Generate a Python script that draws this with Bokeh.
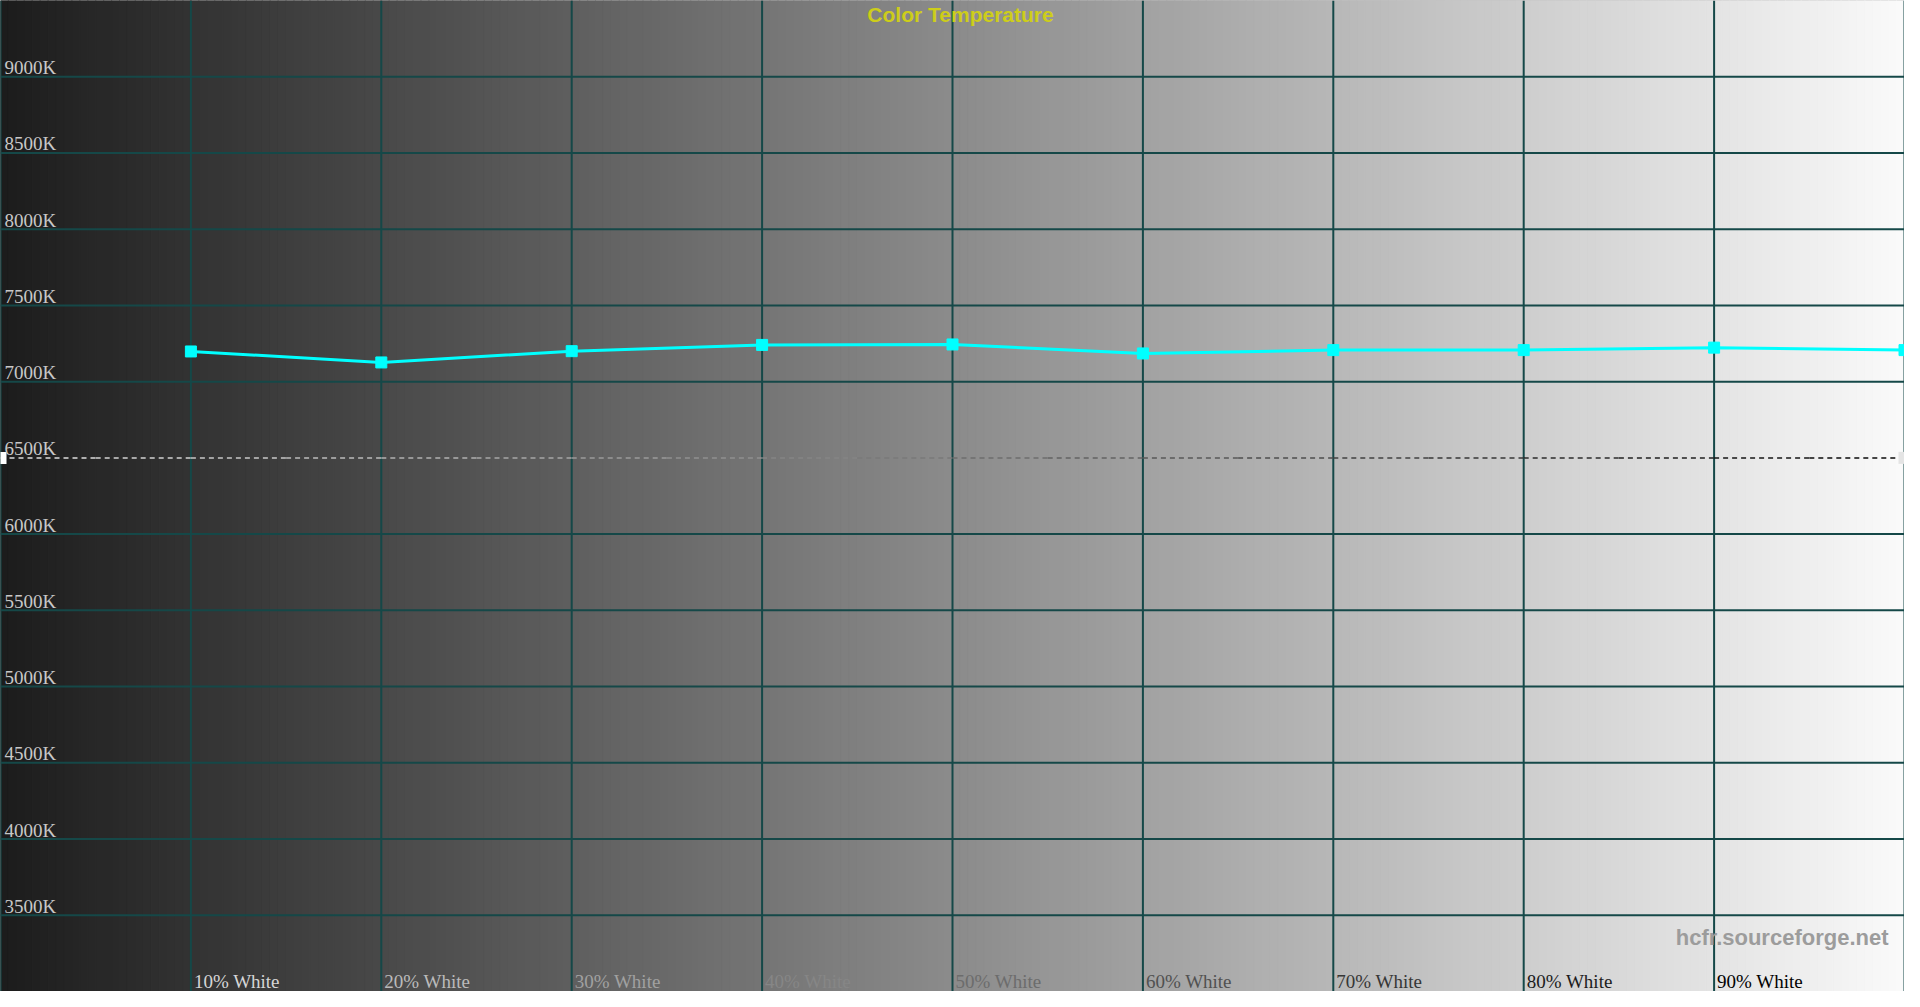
import numpy as np
from bokeh.plotting import figure
from bokeh.models import Range1d, ColumnDataSource
from bokeh.core.properties import value
from bokeh.embed import file_html
from bokeh.resources import INLINE

# ---------------- data ----------------
levels = [10, 20, 30, 40, 50, 60, 70, 80, 90, 100]
cct = [7198, 7126, 7200, 7241, 7244, 7185, 7207, 7207, 7223, 7207]
x_labels = ["10% White", "20% White", "30% White", "40% White", "50% White",
            "60% White", "70% White", "80% White", "90% White"]
y_ticks = [3500, 4000, 4500, 5000, 5500, 6000, 6500, 7000, 7500, 8000, 8500, 9000]
y_labels = ["3500K", "4000K", "4500K", "5000K", "5500K", "6000K", "6500K",
            "7000K", "7500K", "8000K", "8500K", "9000K"]
target_cct = 6500
title = "Color Temperature"
watermark = "hcfr.sourceforge.net"

# ---------------- style ----------------
X0, X1 = 0, 100
Y0, Y1 = 3000, 9500
W, H = 1904, 991
G_LEFT, G_RIGHT = 28, 250
GRID = "#154848"
CYAN = "#00ffff"


def bg_gray(xv):
    return G_LEFT + (G_RIGHT - G_LEFT) * (xv - X0) / (X1 - X0)


def hexg(g):
    g = int(round(max(0, min(255, g))))
    return "#%02x%02x%02x" % (g, g, g)


def inverse_col(xv, boost=1.1):
    g = bg_gray(xv)
    c = 255 - g
    return hexg(g + (c - g) * boost)


p = figure(width=W, height=H, x_range=Range1d(X0, X1), y_range=Range1d(Y0, Y1),
           output_backend="svg", toolbar_location=None, min_border=0,
           x_axis_location=None, y_axis_location=None)
p.outline_line_color = None
p.background_fill_color = "#888888"
p.border_fill_color = "#888888"

# gradient background
N = 240
edges = np.linspace(X0, X1, N + 1)
cols = [hexg(bg_gray((a + b) / 2)) for a, b in zip(edges[:-1], edges[1:])]
p.quad(left=edges[:-1], right=edges[1:], bottom=Y0, top=Y1,
       fill_color=cols, line_color=cols, line_width=1)

# grid
vx = [X0] + levels
p.segment(x0=vx, y0=Y0, x1=vx, y1=Y1, line_color=GRID, line_width=2)
hy = [t for t in y_ticks if t != target_cct]
p.segment(x0=X0, y0=hy, x1=X1, y1=hy, line_color=GRID, line_width=2)

# reference (target) dashed line, drawn in inverse colours
M = 20
de = np.linspace(X0, X1, M + 1)
p.multi_line(xs=[[a, b] for a, b in zip(de[:-1], de[1:])],
             ys=[[target_cct, target_cct]] * M,
             line_color=[inverse_col((a + b) / 2, 1.0) for a, b in zip(de[:-1], de[1:])],
             line_width=1.5, line_dash="5 4")
p.rect(x=[X0, X1], y=[target_cct, target_cct], width=12, height=12,
       width_units="screen", height_units="screen",
       fill_color=["#ffffff", "#e4e4e4"], line_color=None)

# data
p.line(levels, cct, line_color=CYAN, line_width=3)
p.scatter(levels, cct, marker="square", size=11, fill_color=CYAN, line_color=CYAN)

# y labels
p.text(x=[X0] * len(y_ticks), y=y_ticks, text=y_labels, x_offset=4, y_offset=-9,
       text_font=value("Liberation Serif"), text_font_size="19px",
       text_color="#c8c8c8", text_baseline="alphabetic", text_align="left")

# x labels
xs_src = ColumnDataSource(dict(
    x=levels[:len(x_labels)], y=[Y0] * len(x_labels), t=x_labels,
    c=[inverse_col(lv + 2.3) for lv in levels[:len(x_labels)]]))
p.text(x="x", y="y", text="t", text_color="c", source=xs_src, x_offset=3, y_offset=-10,
       text_font=value("Liberation Serif"), text_font_size="19px",
       text_baseline="alphabetic", text_align="left")

# title
p.text(x=[(X0 + X1) / 2], y=[Y1], text=[title], x_offset=8, y_offset=14,
       text_font=value("Liberation Sans"), text_font_style="bold",
       text_font_size="21px", text_color="#cdcd1a",
       text_baseline="alphabetic", text_align="center")

# watermark
p.text(x=[X1], y=[Y0], text=[watermark], x_offset=-16, y_offset=-54,
       text_font=value("Liberation Sans"), text_font_style="bold",
       text_font_size="22px", text_color="#9c9c9c",
       text_baseline="alphabetic", text_align="right")

open("out.html", "w").write(file_html(p, INLINE))
